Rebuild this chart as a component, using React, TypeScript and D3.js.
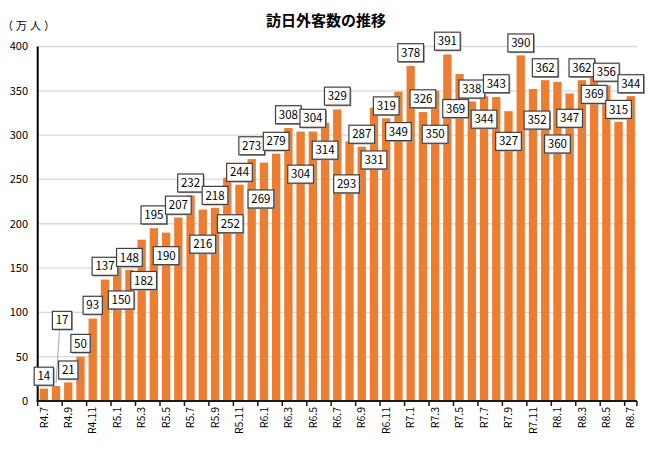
import * as d3 from 'd3'

// 訪日外客数 (万人), R4.7 .. R8.7
const months = [
  'R4.7', 'R4.8', 'R4.9', 'R4.10', 'R4.11', 'R4.12',
  'R5.1', 'R5.2', 'R5.3', 'R5.4', 'R5.5', 'R5.6', 'R5.7', 'R5.8', 'R5.9', 'R5.10', 'R5.11', 'R5.12',
  'R6.1', 'R6.2', 'R6.3', 'R6.4', 'R6.5', 'R6.6', 'R6.7', 'R6.8', 'R6.9', 'R6.10', 'R6.11', 'R6.12',
  'R7.1', 'R7.2', 'R7.3', 'R7.4', 'R7.5', 'R7.6', 'R7.7', 'R7.8', 'R7.9', 'R7.10', 'R7.11', 'R7.12',
  'R8.1', 'R8.2', 'R8.3', 'R8.4', 'R8.5', 'R8.6', 'R8.7',
]

const visitors = [
  14, 17, 21, 50, 93, 137,
  150, 148, 182, 195, 190, 207, 232, 216, 218, 252, 244, 273,
  269, 279, 308, 304, 304, 314, 329, 293, 287, 331, 319, 349,
  378, 326, 350, 391, 369, 338, 344, 343, 327, 390, 352, 362,
  360, 347, 362, 369, 356, 315, 344,
]

// where each data label box sits, on the value axis
const labelAt = [
  28, 91, 35, 65, 108, 152,
  114, 162, 136, 210, 164, 221, 246, 177, 232, 200, 258, 288,
  228, 293, 323, 256, 319, 283, 344, 245, 301, 272, 333, 304,
  393, 341, 301, 406, 330, 352, 318, 358, 293, 404, 317, 376,
  290, 319, 376, 346, 371, 329, 358,
]

const yTicks = [0, 50, 100, 150, 200, 250, 300, 350, 400]

const title = '訪日外客数の推移'
const unit = '（万人）'

// small sideways nudges of some label boxes (px)
const nudge: Record<number, number> = { 1: 6, 6: 4, 8: 2, 15: 3, 18: -3, 25: -3, 34: -4, 40: 4 }

const W = 662, H = 449
const left = 37.7, right = 636.9, bottom = 401, top = 46.5
const font = '"Noto Sans CJK JP", "Noto Sans", sans-serif'

export default function App() {
  const x = d3.scaleBand<string>().domain(months).range([left, right])
    .paddingInner(0.32).paddingOuter(0.16)
  const y = d3.scaleLinear().domain([0, 400]).range([bottom, top])
  const bw = x.bandwidth()
  const step = x.step()
  const slot = (m: string) => (x(m) || 0) - step * 0.16

  const tickMonths = months.filter((_, i) => i % 2 == 0)

  return (
    <svg width={W} height={H} style={{ position: 'absolute', left: 0, top: 0, background: '#fff' }}
      fontFamily={font}>
      <text x={326} y={26} textAnchor="middle" fontSize={15} fontWeight={700} fill="#000">{title}</text>
      <text x={2} y={29.5} fontSize={11} letterSpacing={3} fill="#000">{unit}</text>

      {yTicks.map(t => (
        <g key={t}>
          {t > 0 && <line x1={left} x2={right} y1={y(t)} y2={y(t)} stroke="#d9d9d9" strokeWidth={1.3} />}
          <text x={28} y={y(t)} dy="0.35em" textAnchor="end" fontSize={11} fill="#000">{t}</text>
        </g>
      ))}

      {visitors.map((v, i) => (
        <rect key={i} x={x(months[i])} y={y(v)} width={bw} height={bottom - y(v)} fill="#ed7d31" />
      ))}

      <line x1={left} x2={left} y1={top} y2={bottom + 1} stroke="#000" strokeWidth={2} />
      <line x1={left - 1} x2={right} y1={bottom} y2={bottom} stroke="#1a1a1a" strokeWidth={2} />
      {tickMonths.map(m => (
        <line key={m} x1={slot(m)} x2={slot(m)} y1={bottom} y2={bottom + 5} stroke="#1a1a1a" strokeWidth={1.5} />
      ))}
      <line x1={right} x2={right} y1={bottom} y2={bottom + 5} stroke="#1a1a1a" strokeWidth={1.5} />
      {tickMonths.map(m => {
        const cx = (x(m) || 0) + bw / 2
        return (
          <text key={m} transform={`translate(${cx},${407}) rotate(-90)`} textAnchor="end" dy="0.35em"
            fontSize={10.5} fill="#000">{m}</text>
        )
      })}

      {visitors.map((v, i) => {
        const cx = (x(months[i]) || 0) + bw / 2 + (nudge[i] || 0)
        const cy = y(labelAt[i])
        const txt = String(v)
        const bwid = txt.length * 6.4 + 6.5
        const bh = 18
        return (
          <g key={'l' + i}>
            {i == 1 && (
              <line x1={cx - 2.5} y1={cy + bh / 2} x2={(x(months[i]) || 0) + bw / 2} y2={y(v) - 3}
                stroke="#a6a6a6" strokeWidth={1} />
            )}
            <rect x={cx - bwid / 2 + 1.2} y={cy - bh / 2 + 1.2} width={bwid} height={bh} fill="#9a9a9a" />
            <rect x={cx - bwid / 2} y={cy - bh / 2} width={bwid} height={bh} fill="#fff"
              stroke="#404040" strokeWidth={1.2} />
            <text x={cx} y={cy} dy="0.36em" textAnchor="middle" fontSize={11.5} fill="#000">{txt}</text>
          </g>
        )
      })}
    </svg>
  )
}
